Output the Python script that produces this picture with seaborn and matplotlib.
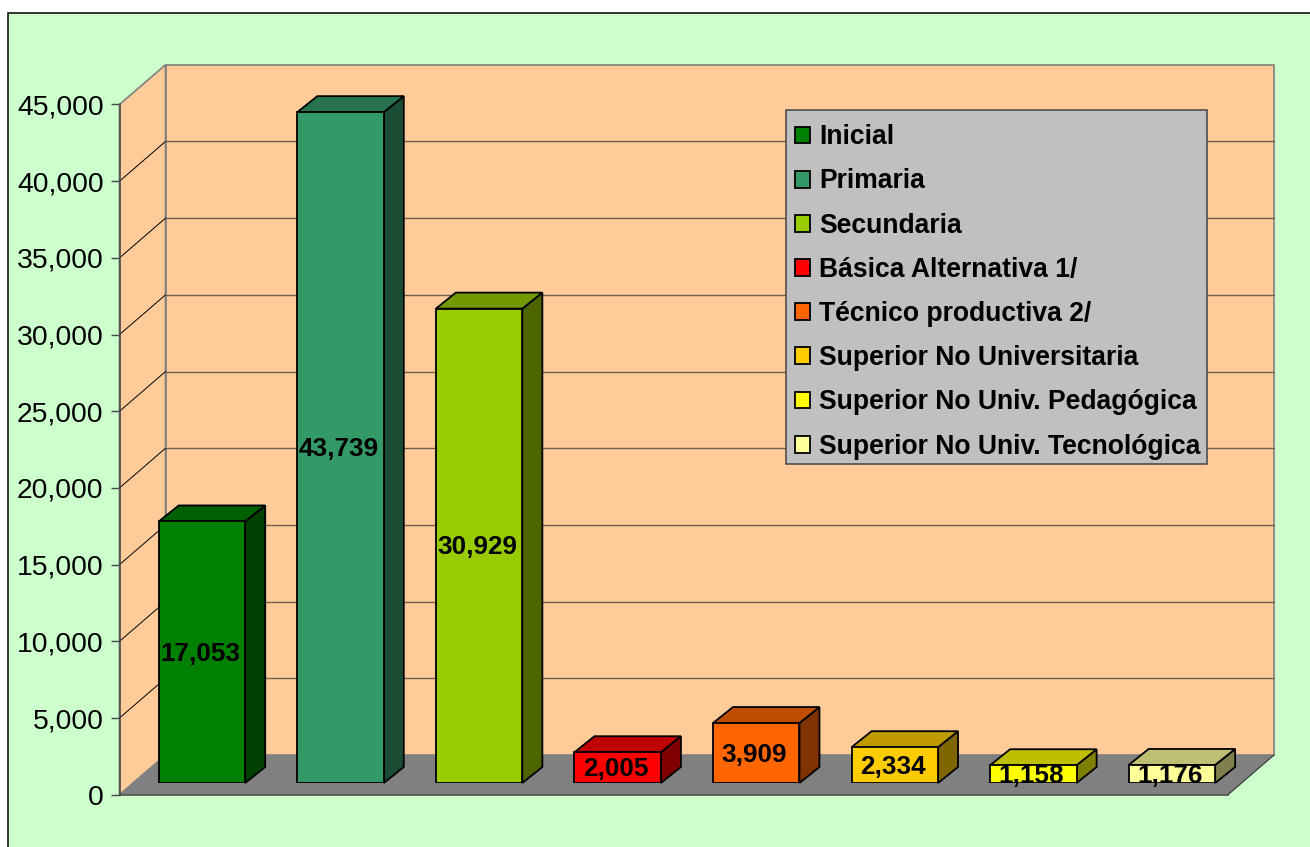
"""Docentes por nivel educativo: barras con efecto 3D (seaborn + parches)."""
import matplotlib
matplotlib.use("Agg")
import matplotlib.pyplot as plt
import pandas as pd
import seaborn as sns
from matplotlib.colors import to_rgb
from matplotlib.patches import Polygon, Rectangle
from matplotlib.ticker import FuncFormatter

niveles = ["Inicial", "Primaria", "Secundaria", "Básica Alternativa 1/",
           "Técnico productiva 2/", "Superior No Universitaria",
           "Superior No Univ. Pedagógica", "Superior No Univ. Tecnológica"]
valores = [17053, 43739, 30929, 2005, 3909, 2334, 1158, 1176]
colores = ["#008000", "#339966", "#99CC00", "#FF0000",
           "#FF6600", "#FFCC00", "#FFFF00", "#FFFF99"]
ticks_y = [0, 5000, 10000, 15000, 20000, 25000, 30000, 35000, 40000, 45000]

W, H = 1310, 847
AX_L, AX_R, AX_T, AX_B = 119.5, 1228, 104.5, 794.7  # plano frontal, en px
PX_X = (AX_R - AX_L) / 8          # px por categoria
PX_Y = (AX_B - AX_T) / 45000      # px por unidad


def shade(color, k):
    return tuple(c * k for c in to_rgb(color))


sns.set_theme(style="white")
plt.rcParams["font.family"] = ["Liberation Sans", "DejaVu Sans"]

df = pd.DataFrame({"nivel": niveles, "docentes": valores})

fig = plt.figure(figsize=(W / 100, H / 100), dpi=100, facecolor="white")
fig.patches.append(Rectangle((7.5 / W, -0.1), 1.2, 1.1 - 13 / H, transform=fig.transFigure,
                             facecolor="#CCFFCC", edgecolor="black", linewidth=1.1,
                             zorder=-1))

ax = fig.add_axes([AX_L / W, 1 - AX_B / H, (AX_R - AX_L) / W, (AX_B - AX_T) / H])
ax.set_facecolor("none")
ax.set_xlim(-0.5, 7.5)
ax.set_ylim(0, 45000)

# paredes y piso
wx = 46 / PX_X
wy = 39.7 / PX_Y
x0, x1 = -0.5, 7.5
ax.add_patch(Polygon([(x0 + wx, wy), (x1 + wx, wy), (x1 + wx, 45000 + wy), (x0 + wx, 45000 + wy)],
                     facecolor="#FFCC99", edgecolor="#808080", linewidth=1.2,
                     clip_on=False, zorder=0.5))
ax.add_patch(Polygon([(x0, 0), (x0 + wx, wy), (x0 + wx, 45000 + wy), (x0, 45000)],
                     facecolor="#FFCC99", edgecolor="#808080", linewidth=1.2,
                     clip_on=False, zorder=0.6))
ax.add_patch(Polygon([(x0, 0), (x1, 0), (x1 + wx, wy), (x0 + wx, wy)],
                     facecolor="#808080", edgecolor="none",
                     clip_on=False, zorder=0.7))
ax.plot([x1, x1 + wx], [0, wy], color="#333333", lw=0.8, clip_on=False, zorder=0.8)
for v in ticks_y[1:-1]:
    ax.plot([x0, x0 + wx], [v, v + wy], color="black", lw=0.7, clip_on=False, zorder=0.8)
    ax.plot([x0 + wx, x1 + wx], [v + wy, v + wy], color="#6E5F4F", lw=1.0,
            clip_on=False, zorder=0.55)

sns.despine(ax=ax, top=True, right=True)
for s in ["left", "bottom"]:
    ax.spines[s].set_color("#444444")
    ax.spines[s].set_linewidth(1.1)
ax.set_xticks([])
ax.set_yticks(ticks_y)
ax.yaxis.set_major_formatter(FuncFormatter(lambda v, _: f"{int(v):,}"))
ax.tick_params(axis="y", left=True, length=6.5, width=1, color="#444444",
               pad=5, labelsize=20.4, labelcolor="black")
ax.set_xlabel("")
ax.set_ylabel("")

# barras: plano desplazado hacia el fondo
dx_px, dy_px = 13.2, 11.7
ax_b = fig.add_axes([(AX_L + dx_px) / W, 1 - (AX_B - dy_px) / H,
                     (AX_R - AX_L) / W, (AX_B - AX_T) / H])
sns.barplot(data=df, x="nivel", y="docentes", hue="nivel", hue_order=niveles,
            palette=colores, dodge=False, width=0.624, saturation=1,
            edgecolor="black", linewidth=1.3, ax=ax_b, zorder=2)
ax_b.set_xlim(-0.5, 7.5)
ax_b.set_ylim(0, 45000)
ax_b.set_facecolor("none")
ax_b.axis("off")

ddx = 20 / PX_X
ddy = 16 / PX_Y
for cont, color in zip(ax_b.containers, colores):
    for bar in cont:
        xa = bar.get_x()
        xb = xa + bar.get_width()
        h = bar.get_height()
        ax_b.add_patch(Polygon([(xb, 0), (xb + ddx, ddy), (xb + ddx, h + ddy), (xb, h)],
                               facecolor=shade(color, 0.5), edgecolor="black", linewidth=1.3,
                               joinstyle="miter", clip_on=False, zorder=1.5))
        ax_b.add_patch(Polygon([(xa, h), (xa + ddx, h + ddy), (xb + ddx, h + ddy), (xb, h)],
                               facecolor=shade(color, 0.75), edgecolor="black", linewidth=1.3,
                               joinstyle="miter", clip_on=False, zorder=1.5))
    etiquetas = ax_b.bar_label(cont, labels=[f"{int(b.get_height()):,}" for b in cont],
                               label_type="center", fontsize=18.8, fontweight="bold",
                               color="black", zorder=5)
    for t in etiquetas:
        t.xyann = (-1.4, -1.2)

# marco de la leyenda aparte: el relleno es mayor arriba que a los lados
ax_b.add_patch(Rectangle((786 / W, 1 - 464 / H), 421 / W, 354 / H, transform=fig.transFigure,
                         facecolor="#C0C0C0", edgecolor="#444444", linewidth=1.1,
                         clip_on=False, zorder=9))

# la leyenda se arma con las barras: seaborn la omite si hue repite x
handles = [c[0] for c in ax_b.containers]
leg = ax_b.legend(handles, niveles, loc="upper left",
                  bbox_to_anchor=(795 / W, 1 - 124.3 / H), bbox_transform=fig.transFigure,
                  borderaxespad=0, borderpad=0,
                  prop={"weight": "bold", "size": 19.1},
                  labelspacing=0.685, handlelength=0.57, handleheight=0.6,
                  handletextpad=0.34, frameon=False)
leg.set_zorder(10)
for t in leg.get_texts():
    t.set_color("black")

fig.savefig("out.png", dpi=100)
